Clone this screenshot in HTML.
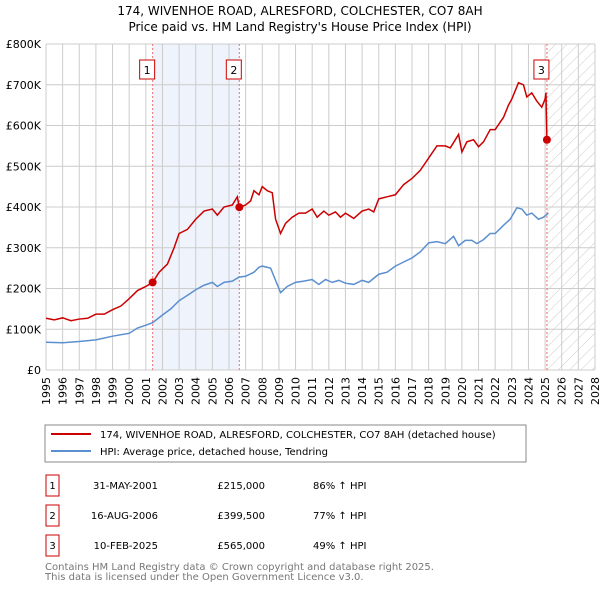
<!DOCTYPE html>
<html><head><meta charset="utf-8"><style>
body{margin:0;background:#fff;font-family:"Liberation Sans","DejaVu Sans",sans-serif;}
svg text{font-family:"DejaVu Sans","Liberation Sans",sans-serif;}
</style></head><body>
<svg width="600" height="590" viewBox="0 0 600 590" xmlns="http://www.w3.org/2000/svg">
<defs>
<pattern id="hatch" width="8" height="8" patternUnits="userSpaceOnUse" patternTransform="rotate(45)">
<line x1="0" y1="0" x2="0" y2="8" stroke="#ccc" stroke-width="1"/></pattern>
</defs>
<text x="300" y="15" text-anchor="middle" font-size="12" fill="#000">174, WIVENHOE ROAD, ALRESFORD, COLCHESTER, CO7 8AH</text>
<text x="300" y="31" text-anchor="middle" font-size="12" fill="#000">Price paid vs. HM Land Registry's House Price Index (HPI)</text>
<g id="plot"></g>
<rect x="45" y="425" width="481" height="37" fill="#fff" stroke="#888"/>
<line x1="51" y1="434" x2="91" y2="434" stroke="#cc0000" stroke-width="2"/>
<text x="100" y="438" font-size="10">174, WIVENHOE ROAD, ALRESFORD, COLCHESTER, CO7 8AH (detached house)</text>
<line x1="51" y1="451" x2="91" y2="451" stroke="#5b8fd0" stroke-width="2"/>
<text x="100" y="455" font-size="10">HPI: Average price, detached house, Tendring</text>
<g font-size="10">
<rect x="46" y="475" width="13" height="21" fill="none" stroke="#cc0000"/><text x="52.5" y="489" text-anchor="middle">1</text>
<text x="158" y="489" text-anchor="end">31-MAY-2001</text><text x="265" y="489" text-anchor="end">£215,000</text><text x="313" y="489">86% ↑ HPI</text>
<rect x="46" y="505" width="13" height="21" fill="none" stroke="#cc0000"/><text x="52.5" y="519" text-anchor="middle">2</text>
<text x="158" y="519" text-anchor="end">16-AUG-2006</text><text x="265" y="519" text-anchor="end">£399,500</text><text x="313" y="519">77% ↑ HPI</text>
<rect x="46" y="535" width="13" height="21" fill="none" stroke="#cc0000"/><text x="52.5" y="549" text-anchor="middle">3</text>
<text x="158" y="549" text-anchor="end">10-FEB-2025</text><text x="265" y="549" text-anchor="end">£565,000</text><text x="313" y="549">49% ↑ HPI</text>
</g>
<text x="45" y="570" font-size="10" fill="#777">Contains HM Land Registry data © Crown copyright and database right 2025.</text>
<text x="45" y="580" font-size="10" fill="#777">This data is licensed under the Open Government Licence v3.0.</text>
</svg>
<script>
const yTicks=[0,100,200,300,400,500,600,700,800];
const yTickLabels=["£0","£100K","£200K","£300K","£400K","£500K","£600K","£700K","£800K"];
const years=[1995,1996,1997,1998,1999,2000,2001,2002,2003,2004,2005,2006,2007,2008,2009,2010,2011,2012,2013,2014,2015,2016,2017,2018,2019,2020,2021,2022,2023,2024,2025,2026,2027,2028];
const saleDates=[2001.41,2006.62,2025.11];
const salePrices=[215,399.5,565];
const saleLabels=["1","2","3"];
const propT=[1995,1995.5,1996,1996.5,1997,1997.5,1998,1998.5,1999,1999.5,2000,2000.5,2001,2001.41,2001.8,2002.3,2002.7,2003,2003.5,2004,2004.5,2005,2005.3,2005.7,2006.2,2006.5,2006.62,2007,2007.3,2007.5,2007.8,2008,2008.3,2008.6,2008.8,2009.1,2009.4,2009.8,2010.2,2010.6,2011,2011.3,2011.7,2012,2012.4,2012.7,2013,2013.5,2014,2014.4,2014.7,2015,2015.5,2016,2016.5,2017,2017.5,2018,2018.5,2019,2019.3,2019.8,2020,2020.3,2020.7,2021,2021.3,2021.7,2022,2022.5,2022.8,2023,2023.4,2023.7,2023.9,2024.2,2024.5,2024.8,2025,2025.05,2025.11];
const propV=[127,123,128,121,125,127,137,137,148,157,175,195,205,215,240,260,300,335,345,370,390,395,380,400,405,425,399.5,405,415,440,430,450,440,435,370,335,360,375,385,385,395,375,390,380,388,375,385,372,390,395,388,420,425,430,455,470,490,520,550,550,545,578,535,560,565,548,560,590,590,620,650,665,705,700,670,680,660,645,665,680,565];
const hpiT=[1995,1996,1997,1998,1999,2000,2000.5,2001,2001.41,2002,2002.5,2003,2003.5,2004,2004.5,2005,2005.3,2005.7,2006.2,2006.6,2007,2007.5,2007.8,2008,2008.5,2008.8,2009.1,2009.5,2010,2010.5,2011,2011.4,2011.8,2012.2,2012.6,2013,2013.5,2014,2014.4,2015,2015.5,2016,2016.5,2017,2017.5,2018,2018.5,2019,2019.5,2019.8,2020.2,2020.6,2020.9,2021.3,2021.7,2022,2022.5,2022.9,2023.3,2023.6,2023.9,2024.2,2024.6,2024.9,2025.2];
const hpiV=[68,67,70,74,83,90,103,110,116,135,150,170,183,197,208,215,205,215,218,228,230,240,252,255,250,220,190,205,215,218,222,210,222,215,220,213,210,220,215,235,240,255,265,275,290,312,315,310,328,305,318,318,310,320,335,335,355,370,398,395,380,385,370,375,385];

const NS="http://www.w3.org/2000/svg";
const X0=46,X1=595,Y0=370,Y1=44;
const xs=t=>X0+(t-1995)/(2028-1995)*(X1-X0);
const ys=v=>Y0-v/800*(Y0-Y1);
const g=document.getElementById('plot');
function mk(tag,a){const e=document.createElementNS(NS,tag);for(const k in a)e.setAttribute(k,a[k]);g.appendChild(e);return e;}
let e;
e=mk('rect',{x:xs(saleDates[0]),y:Y1,width:xs(saleDates[1])-xs(saleDates[0]),height:Y0-Y1,fill:'#eef3fc'});


e=mk('rect',{x:xs(saleDates[2]),y:Y1,width:X1-xs(saleDates[2]),height:Y0-Y1,fill:'url(#hatch)'});


years.forEach(y=>{
 e=mk('line',{x1:xs(y),x2:xs(y),y1:Y1,y2:Y0,stroke:'#ccc','stroke-width':1});
 
 
 e=mk('text',{x:0,y:0,transform:`translate(${xs(y)+4},${Y0+7}) rotate(-90)`,'text-anchor':'end','font-size':11});
 e.textContent=y;
 
 
});
yTicks.forEach((v,i)=>{
 e=mk('line',{x1:X0,x2:X1,y1:ys(v),y2:ys(v),stroke:'#ccc','stroke-width':1});
 
 
 e=mk('text',{x:X0-5,y:ys(v)+4,'text-anchor':'end','font-size':11});
 e.textContent=yTickLabels[i];
 
 
});
saleDates.forEach((d,i)=>{
 e=mk('line',{x1:xs(d),x2:xs(d),y1:Y1,y2:Y0,stroke:'#f07070','stroke-width':1,'stroke-dasharray':'2,2'});
 
 
});
e=mk('polyline',{points:hpiT.map((t,i)=>xs(t)+','+ys(hpiV[i])).join(' '),fill:'none',stroke:'#5b8fd0','stroke-width':1.5});


e=mk('polyline',{points:propT.map((t,i)=>xs(t)+','+ys(propV[i])).join(' '),fill:'none',stroke:'#cc0000','stroke-width':1.5});


saleDates.forEach((d,i)=>{
 e=mk('circle',{cx:xs(d),cy:ys(salePrices[i]),r:4,fill:'#cc0000'});
 
 
 e=mk('rect',{x:xs(d)-13,y:60,width:15,height:19,fill:'#fff',stroke:'#cc0000'});
 
 
 e=mk('text',{x:xs(d)-5.5,y:74,'text-anchor':'middle','font-size':11});
 e.textContent=saleLabels[i];
 
 
});
</script>
</body></html>
